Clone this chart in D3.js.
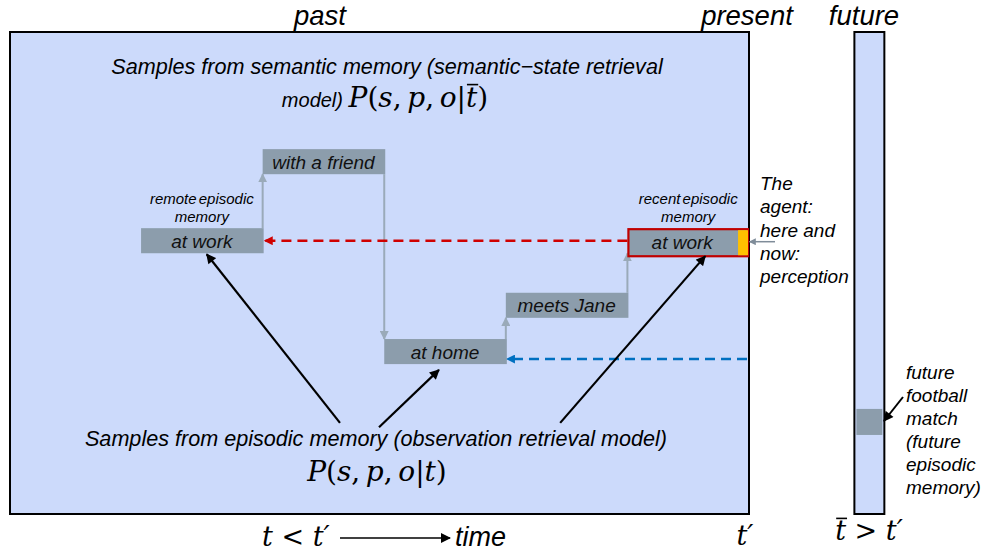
<!DOCTYPE html>
<html><head><meta charset="utf-8">
<script src="https://cdn.jsdelivr.net/npm/d3@7"></script>
<style>body{margin:0;background:#fff;} svg{display:block}</style>
</head><body>
<svg id="chart" width="986" height="554"></svg>
<script>
// ---------------- data ----------------
const periodLabels = ["past", "present", "future"];
const eventLabels = ["at work", "with a friend", "at home", "meets Jane", "at work"];
const eventTime = [0, 1, 2, 3, 4];            // time slot where each episode starts (slot length 1)
const eventLevel = [5.93, 7.57, 3.63, 4.59, 5.93]; // semantic-state level (top of episode)
const eventKinds = ["remote", "path", "path", "path", "recent"];
const memoryNotes = ["remote episodic memory", "recent episodic memory"];
const agentLines = ["The", "agent:", "here and", "now:", "perception"];
const futureLines = ["future", "football", "match", "(future", "episodic", "memory)"];
const futureEventTime = [5.875, 6.105];
const futureEventLevel = 2.18;
const semanticTitle = "Samples from semantic memory (semantic\u2212state retrieval";
const episodicTitle = "Samples from episodic memory (observation retrieval model)";

// ---------------- scales ----------------
const x = d3.scaleLinear().domain([-1.078, 5.0]).range([10, 749]);
const y = d3.scaleLinear().domain([0, 10]).range([514, 32]);
const boxH = 0.52; // level units

const svg = d3.select("#chart");
const SANS = "'Liberation Sans', Arial, sans-serif";
const SERIF = "'DejaVu Serif', 'Liberation Serif', serif";
const BG = "#CCDAFB", BOX = "#8C9DAC", LINK = "#9AAAB9";

// markers
const defs = svg.append("defs");
function marker(id, color, w, h) {
  defs.append("marker").attr("id", id).attr("viewBox", "0 0 10 10")
    .attr("refX", 9).attr("refY", 5).attr("markerWidth", w).attr("markerHeight", h)
    .attr("markerUnits", "userSpaceOnUse").attr("orient", "auto")
    .append("path").attr("d", "M0,0L10,5L0,10z").attr("fill", color);
}
marker("mGray", LINK, 9, 9);
marker("mBlack", "#000", 11, 10);
marker("mRed", "#D00000", 11, 9);
marker("mBlue", "#0070C0", 11, 9);
marker("mGraySmall", "#7F8C99", 8, 7);

// ---------------- panels ----------------
svg.append("rect").attr("x", x(-1.078)).attr("y", y(10))
  .attr("width", x(5.0) - x(-1.078)).attr("height", y(0) - y(10))
  .attr("fill", BG).attr("stroke", "#000").attr("stroke-width", 2);
svg.append("rect").attr("x", x(futureEventTime[0]) - 1).attr("y", y(10))
  .attr("width", x(futureEventTime[1]) - x(futureEventTime[0]) + 2).attr("height", y(0) - y(10))
  .attr("fill", BG).attr("stroke", "#000").attr("stroke-width", 2);

// period labels
const periodX = [320, 747, 864];
svg.selectAll("text.period").data(periodLabels).join("text").attr("class", "period")
  .attr("x", (d, i) => periodX[i]).attr("y", 25).attr("text-anchor", "middle")
  .attr("font-family", SANS).attr("font-style", "italic").attr("font-size", 27.5).text(d => d);

// ---------------- math helper ----------------
function mathText(cx, by, parts, size, anchor) {
  const t = svg.append("text").attr("x", cx).attr("y", by).attr("font-family", SERIF)
    .attr("font-size", size).attr("text-anchor", anchor || "middle");
  parts.forEach(p => {
    t.append("tspan").attr("font-style", p[1] ? "italic" : "normal")
      .attr("font-family", p[2] || SERIF).attr("font-size", p[3] || size).text(p[0]);
  });
  return t;
}
function overline(tspanNode, by, size) {
  const s = tspanNode.getStartPositionOfChar(0).x, e = tspanNode.getEndPositionOfChar(0).x;
  svg.append("line").attr("x1", s + 1).attr("x2", e + 1).attr("y1", by - size * 0.8).attr("y2", by - size * 0.8)
    .attr("stroke", "#000").attr("stroke-width", 1.6);
}
const comma = ",\u2009";

// semantic title
svg.append("text").attr("x", 387).attr("y", 74).attr("text-anchor", "middle")
  .attr("font-family", SANS).attr("font-style", "italic").attr("font-size", 21.6).text(semanticTitle);
const sem2 = mathText(385, 107, [["model) ", true, SANS, 20], ["P", true], ["(", false], ["s", true], [comma, false], ["p", true], [comma, false], ["o", true], ["|", false], ["t", true], [")", false]], 28);
overline(sem2.selectAll("tspan").nodes()[9], 107, 28);

// episodic title
svg.append("text").attr("x", 376).attr("y", 446).attr("text-anchor", "middle")
  .attr("font-family", SANS).attr("font-style", "italic").attr("font-size", 21.6).text(episodicTitle);
mathText(377, 481, [["P", true], ["(", false], ["s", true], [comma, false], ["p", true], [comma, false], ["o", true], ["|", false], ["t", true], [")", false]], 28);

// ---------------- connectors between episodes ----------------
const links = d3.range(eventLabels.length - 1).map(i => ({ from: i, to: i + 1 }));
svg.selectAll("line.link").data(links).join("line").attr("class", "link")
  .attr("x1", d => x(eventTime[d.to])).attr("x2", d => x(eventTime[d.to]))
  .attr("y1", d => eventLevel[d.to] > eventLevel[d.from] ? y(eventLevel[d.from]) : y(eventLevel[d.from] - boxH))
  .attr("y2", d => eventLevel[d.to] > eventLevel[d.from] ? y(eventLevel[d.to] - boxH) : y(eventLevel[d.to]))
  .attr("stroke", LINK).attr("stroke-width", 2).attr("marker-end", "url(#mGray)");

// dashed retrieval arrows
svg.append("line").attr("x1", x(4)).attr("x2", x(1) + 2)
  .attr("y1", y(eventLevel[0] - boxH / 2)).attr("y2", y(eventLevel[0] - boxH / 2))
  .attr("stroke", "#D00000").attr("stroke-width", 2.5).attr("stroke-dasharray", "10,6")
  .attr("marker-end", "url(#mRed)");
svg.append("line").attr("x1", x(5) - 2).attr("x2", x(3) + 1)
  .attr("y1", y(eventLevel[2] - boxH * 0.8)).attr("y2", y(eventLevel[2] - boxH * 0.8))
  .attr("stroke", "#0070C0").attr("stroke-width", 2.5).attr("stroke-dasharray", "10,6")
  .attr("marker-end", "url(#mBlue)");

// ---------------- episode boxes ----------------
const ev = eventLabels.map((d, i) => ({ label: d, t: eventTime[i], lv: eventLevel[i], kind: eventKinds[i] }));
const g = svg.selectAll("g.ev").data(ev).join("g").attr("class", "ev");
g.append("rect")
  .attr("x", d => d.kind === "recent" ? x(d.t) + 1 : x(d.t))
  .attr("y", d => d.kind === "recent" ? y(d.lv) + 1 : y(d.lv))
  .attr("width", d => d.kind === "recent" ? x(d.t + 1) - x(d.t) - 2 : x(d.t + 1) - x(d.t) + 1)
  .attr("height", d => d.kind === "recent" ? y(d.lv - boxH) - y(d.lv) + 2 : y(d.lv - boxH) - y(d.lv))
  .attr("fill", BOX)
  .attr("stroke", d => d.kind === "recent" ? "#C00000" : "none").attr("stroke-width", 2.2);
// orange "now" slice
svg.append("rect").attr("x", x(4.91)).attr("y", y(eventLevel[4]) + 2)
  .attr("width", x(5) - 1 - x(4.91)).attr("height", y(eventLevel[4] - boxH) - y(eventLevel[4]))
  .attr("fill", "#FFC000");
g.append("text")
  .attr("x", d => x(d.t + 0.5) + (d.kind === "recent" ? -6 : 0))
  .attr("y", d => y(d.lv - boxH / 2) + (d.kind === "recent" ? 8 : 7))
  .attr("text-anchor", "middle").attr("font-family", SANS).attr("font-style", "italic")
  .attr("font-size", 19).attr("fill", "#111").text(d => d.label);

// memory notes
const noteEv = [0, 4];
memoryNotes.forEach((n, i) => {
  const words = n.split(" ");
  const t = svg.append("text").attr("text-anchor", "middle").attr("font-family", SANS)
    .attr("font-style", "italic").attr("font-size", 15).attr("word-spacing", -2);
  const cx = x(eventTime[noteEv[i]] + 0.5);
  t.append("tspan").attr("x", cx).attr("y", y(eventLevel[noteEv[i]]) - 24).text(words[0] + " " + words[1]);
  t.append("tspan").attr("x", cx).attr("y", y(eventLevel[noteEv[i]]) - 6).text(words[2]);
});

// ---------------- sample arrows (black) ----------------
const sampleFrom = [[1.636, 1.89], [1.957, 1.80], [3.447, 1.89]];
const sampleTo = [[0.54, eventLevel[0] - boxH - 0.02], [2.45, eventLevel[2] - boxH - 0.12], [4.64, eventLevel[4] - boxH - 0.06]];
svg.selectAll("line.sample").data(sampleFrom).join("line").attr("class", "sample")
  .attr("x1", d => x(d[0])).attr("y1", d => y(d[1]))
  .attr("x2", (d, i) => x(sampleTo[i][0])).attr("y2", (d, i) => y(sampleTo[i][1]))
  .attr("stroke", "#000").attr("stroke-width", 2.2).attr("marker-end", "url(#mBlack)");

// ---------------- agent perception ----------------
svg.append("line").attr("x1", 775).attr("x2", x(5) + 0.5)
  .attr("y1", y(eventLevel[4] - boxH / 2) + 1).attr("y2", y(eventLevel[4] - boxH / 2) + 1)
  .attr("stroke", "#7F8C99").attr("stroke-width", 1.5).attr("marker-end", "url(#mGraySmall)");
svg.append("text").attr("font-family", SANS).attr("font-style", "italic").attr("font-size", 19)
  .selectAll("tspan").data(agentLines).join("tspan")
  .attr("x", 760).attr("y", (d, i) => 190 + i * 23.3).text(d => d);

// ---------------- future ----------------
svg.append("rect").attr("x", x(futureEventTime[0]) + 1).attr("y", y(futureEventLevel))
  .attr("width", x(futureEventTime[1]) - x(futureEventTime[0]) - 2)
  .attr("height", y(futureEventLevel - 0.54) - y(futureEventLevel)).attr("fill", BOX);
svg.append("line").attr("x1", 903).attr("y1", 397).attr("x2", 884).attr("y2", 421)
  .attr("stroke", "#000").attr("stroke-width", 2).attr("marker-end", "url(#mBlack)");
svg.append("text").attr("font-family", SANS).attr("font-style", "italic").attr("font-size", 19)
  .selectAll("tspan").data(futureLines).join("tspan")
  .attr("x", 906).attr("y", (d, i) => 379 + i * 23).text(d => d);

// ---------------- time axis labels ----------------
mathText(262, 546, [["t", true], [" < ", false], ["t\u2032", true]], 27, "start");
svg.append("line").attr("x1", 340).attr("x2", 450).attr("y1", 538).attr("y2", 538)
  .attr("stroke", "#000").attr("stroke-width", 1.6).attr("marker-end", "url(#mBlack)");
svg.append("text").attr("x", 455).attr("y", 546).attr("font-family", SANS).attr("font-style", "italic")
  .attr("font-size", 27).text("time");
mathText(x(5) - 4, 545, [["t\u2032", true]], 27, "middle");
const fl = mathText(869, 540, [["t", true], [" > ", false], ["t\u2032", true]], 27, "middle");
overline(fl.selectAll("tspan").nodes()[0], 540, 27);
</script>
</body></html>
